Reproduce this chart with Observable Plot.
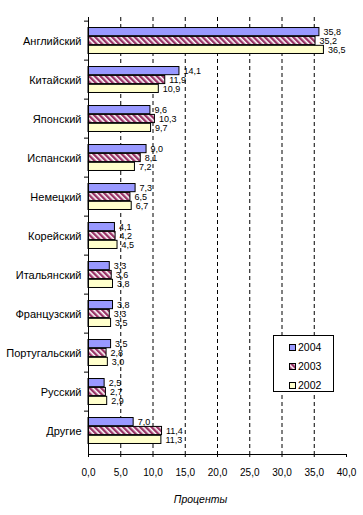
<!DOCTYPE html>
<html><head><meta charset="utf-8">
<script src="https://cdn.jsdelivr.net/npm/d3@7"></script>
<script src="https://cdn.jsdelivr.net/npm/@observablehq/plot@0.6"></script>
<style>
body{margin:0;background:#fff;font-family:"Liberation Sans",Arial,sans-serif;}
#wrap{position:relative;width:363px;height:515px;}
#legend{position:absolute;left:273px;top:335px;width:59px;height:55px;border:1px solid #000;background:#fff;font-size:10.5px;}
#legend .row{position:absolute;left:15px;height:12px;line-height:12px;}
#legend svg{vertical-align:middle;margin-right:2px;position:relative;top:-1px;}
</style></head>
<body><div id="wrap"><div id="chart"></div><div id="legend"></div></div>
<script>
const languages = ["Английский","Китайский","Японский","Испанский","Немецкий","Корейский","Итальянский","Французский","Португальский","Русский","Другие"];
const v2004 = [35.8,14.1,9.6,9.0,7.3,4.1,3.3,3.8,3.5,2.5,7.0];
const v2003 = [35.2,11.9,10.3,8.1,6.5,4.2,3.6,3.3,2.8,2.7,11.4];
const v2002 = [36.5,10.9,9.7,7.2,6.7,4.5,3.8,3.5,3.0,2.9,11.3];
const years = ["2004","2003","2002"];
const xTicks = [0,5,10,15,20,25,30,35,40];
const gridTicks = [5,10,15,20,25,30,35];
const axisTitle = "Проценты";

const fmt = v => v.toFixed(1).replace(".", ",");
const W = 363, H = 515, mt = 17, mb = 61, ml = 88, mr = 17;
const band = (H - mt - mb) / languages.length;
const barH = 8.9;
const outer = (band - 3 * barH) / 2;

const series = [
  {year: years[0], values: v2004, fill: "#9999ff"},
  {year: years[1], values: v2003, fill: "url(#hatch2003)"},
  {year: years[2], values: v2002, fill: "#ffffcc"}
];

const marks = [
  Plot.ruleX(gridTicks, {stroke: "#000", strokeDasharray: "4,3", strokeWidth: 1})
];
series.forEach((s, i) => {
  const data = languages.map((l, j) => ({lang: l, value: s.values[j]}));
  const top = outer + i * barH;
  marks.push(Plot.barX(data, {
    x: "value", y: "lang", fill: s.fill, stroke: "#000", strokeWidth: 1,
    insetTop: top, insetBottom: band - top - barH
  }));
  marks.push(Plot.text(data, {
    x: "value", y: "lang", text: d => fmt(d.value), textAnchor: "start",
    dx: 4, dy: top + barH / 2 - band / 2, fontSize: 9, fill: "#000"
  }));
});
marks.push(
  Plot.ruleX([0], {stroke: "#000"}),
  Plot.frame({anchor: "bottom", stroke: "#000"}),
  Plot.axisY({tickSize: 0, tickPadding: 7, fontSize: 11, label: null}),
  Plot.axisY({tickSize: 4, dy: -band / 2, tickFormat: () => "", label: null}),
  Plot.axisX({ticks: xTicks, tickSize: 3, tickPadding: 11, tickFormat: fmt, fontSize: 10, label: null}),
  Plot.text([axisTitle], {frameAnchor: "bottom", dy: 48, dx: -17, fontStyle: "italic", fontSize: 10.5, fill: "#000"})
);

const chart = Plot.plot({
  width: W, height: H,
  marginTop: mt, marginBottom: mb, marginLeft: ml, marginRight: mr,
  style: {fontFamily: "'Liberation Sans', Arial, sans-serif", fontSize: "9px", color: "#000", background: "#fff"},
  x: {domain: [0, 40], axis: null},
  y: {domain: languages, padding: 0, axis: null},
  marks
});

const defs = `<defs><pattern id="hatch2003" patternUnits="userSpaceOnUse" width="4" height="4" patternTransform="rotate(45)">
<rect width="4" height="4" fill="#993366"/><rect x="0" y="0" width="4" height="1.6" fill="#ffffff"/></pattern></defs>`;
chart.insertAdjacentHTML("afterbegin", defs);
document.getElementById("chart").append(chart);

const legend = document.getElementById("legend");
const lfills = ["#9999ff", "url(#hatch2003)", "#ffffcc"];
years.forEach((y, i) => {
  const row = document.createElement("div");
  row.className = "row";
  row.style.top = (5 + i * 19) + "px";
  row.innerHTML = `<svg width="7" height="7"><rect x="0.5" y="0.5" width="6" height="6" fill="${lfills[i]}" stroke="#000"/></svg>${y}`;
  legend.append(row);
});
</script></body></html>
